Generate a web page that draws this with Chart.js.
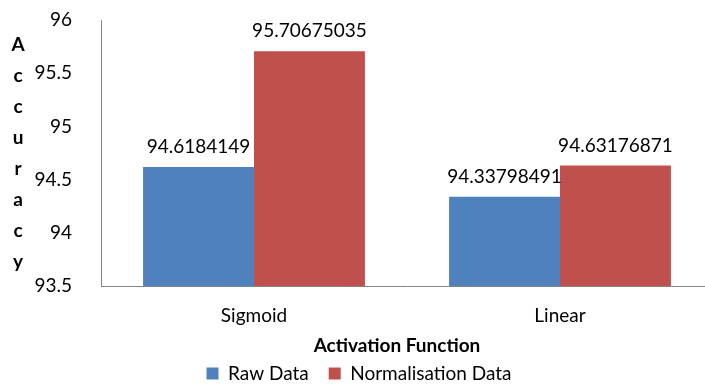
<!DOCTYPE html>
<html>
<head>
<meta charset="utf-8">
<script src="https://cdn.jsdelivr.net/npm/chart.js@4/dist/chart.umd.min.js"></script>
<style>
  html, body { margin: 0; padding: 0; background: #fff; overflow: hidden; }
  #chart-wrapper { width: 705px; height: 387px; overflow: hidden; }
  canvas { display: block; }
</style>
</head>
<body>
<div id="chart-wrapper"><canvas id="accuracyCanvas" width="713" height="393"></canvas></div>
<script>
const activationFunctions = ['Sigmoid', 'Linear'];
const rawData = [94.6184149, 94.33798491];
const normalisationData = [95.70675035, 94.63176871];
const seriesNames = ['Raw Data', 'Normalisation Data'];
const yTitle = 'Accuracy';
const xTitle = 'Activation Function';

const FONT = 'Lato';
const TEXT = '#000';
const AXIS = '#868686';

// value written above every bar, same number the bar is drawn from
const valueLabelsPlugin = {
  id: 'valueLabels',
  afterDatasetsDraw(chart) {
    const ctx = chart.ctx;
    ctx.save();
    ctx.font = `19px ${FONT}`;
    ctx.fillStyle = TEXT;
    ctx.textAlign = 'center';
    ctx.textBaseline = 'alphabetic';
    chart.data.datasets.forEach((ds, di) => {
      chart.getDatasetMeta(di).data.forEach((bar, i) => {
        ctx.fillText(String(ds.data[i]), bar.x, bar.y - 14);
      });
    });
    ctx.restore();
  }
};

// stacked letters on the left, bold title under the category labels
const axisTitlesPlugin = {
  id: 'axisTitles',
  afterDraw(chart) {
    const ctx = chart.ctx;
    ctx.save();
    ctx.font = `bold 19px ${FONT}`;
    ctx.fillStyle = TEXT;
    ctx.textAlign = 'center';
    ctx.textBaseline = 'alphabetic';
    yTitle.split('').forEach((ch, i) => ctx.fillText(ch, 18, 51 + i * 31));
    ctx.fillText(xTitle, 397, 352);
    ctx.restore();
  }
};

new Chart(document.getElementById('accuracyCanvas'), {
  type: 'bar',
  data: {
    labels: activationFunctions,
    datasets: [
      { label: seriesNames[0], data: rawData, backgroundColor: '#4F81BD' },
      { label: seriesNames[1], data: normalisationData, backgroundColor: '#C0504D' }
    ]
  },
  options: {
    responsive: false,
    animation: false,
    devicePixelRatio: 1,
    datasets: { bar: { categoryPercentage: 0.725, barPercentage: 1 } },
    layout: { padding: { left: 5, right: 0, top: 20, bottom: 0 } },
    plugins: {
      legend: {
        position: 'bottom',
        labels: {
          font: { family: FONT, size: 19 },
          color: TEXT,
          boxWidth: 12,
          boxHeight: 12,
          padding: 20
        }
      },
      tooltip: { enabled: false }
    },
    scales: {
      x: {
        grid: { display: false },
        border: { color: AXIS, width: 1 },
        ticks: { font: { family: FONT, size: 19 }, color: TEXT, padding: 10 },
        afterFit: (scale) => { scale.height = 58; }
      },
      y: {
        min: 93.5,
        max: 96,
        grid: { display: false },
        border: { color: AXIS, width: 1 },
        ticks: {
          stepSize: 0.5,
          font: { family: FONT, size: 19 },
          color: TEXT,
          padding: 21,
          callback: (v) => String(+v.toFixed(1))
        },
        afterFit: (scale) => {
          scale.width = 96;
          scale.paddingTop = 0;
          scale.paddingBottom = 0;
        }
      }
    }
  },
  plugins: [valueLabelsPlugin, axisTitlesPlugin]
});
</script>
</body>
</html>
